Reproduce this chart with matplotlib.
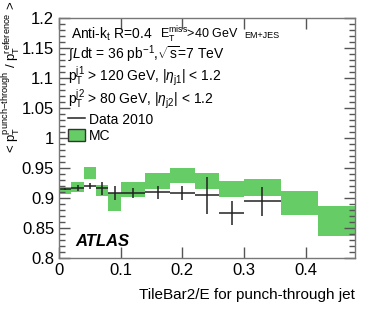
import matplotlib
matplotlib.use('Agg')
import matplotlib.pyplot as plt
from matplotlib.patches import Patch
from matplotlib.lines import Line2D
from matplotlib.ticker import MultipleLocator

plt.rcParams['font.family'] = ['Liberation Sans', 'DejaVu Sans']
plt.rcParams['mathtext.fontset'] = 'custom'
plt.rcParams['mathtext.rm'] = 'Liberation Sans'
plt.rcParams['mathtext.it'] = 'Liberation Sans:italic'

# MC band: bin edges, lower and upper values
mc_edges = [0, 0.02, 0.04, 0.06, 0.08, 0.10, 0.14, 0.18, 0.22, 0.26, 0.30, 0.36, 0.42, 0.48]
mc_low = [0.907, 0.910, 0.932, 0.903, 0.878, 0.902, 0.915, 0.925, 0.915, 0.902, 0.903, 0.871, 0.836]
mc_high = [0.918, 0.926, 0.951, 0.922, 0.909, 0.926, 0.942, 0.950, 0.942, 0.928, 0.932, 0.911, 0.887]

# data 2010 points
data_x = [0.01, 0.03, 0.05, 0.07, 0.09, 0.12, 0.16, 0.20, 0.24, 0.28, 0.33]
data_xerr = [0.01, 0.01, 0.01, 0.01, 0.01, 0.02, 0.02, 0.02, 0.02, 0.02, 0.03]
data_y = [0.915, 0.917, 0.920, 0.916, 0.908, 0.908, 0.9095, 0.908, 0.9045, 0.8755, 0.8945]
data_yerr = [0.002, 0.005, 0.005, 0.0105, 0.012, 0.008, 0.011, 0.012, 0.031, 0.020, 0.024]

fig = plt.figure(figsize=(3.74, 3.09), dpi=100)
ax = fig.add_axes([0.158, 0.165, 0.791, 0.777])

green = '#66cc66'
for i in range(len(mc_low)):
    ax.fill_between([mc_edges[i], mc_edges[i + 1]], mc_low[i], mc_high[i],
                    color=green, linewidth=0)

ax.errorbar(data_x, data_y, xerr=data_xerr, yerr=data_yerr, fmt='none',
            ecolor='#222222', elinewidth=1.1, capsize=0)

ax.set_xlim(0, 0.48)
ax.set_ylim(0.8, 1.2)
ax.yaxis.set_minor_locator(MultipleLocator(0.01))
ax.tick_params(which='both', direction='in', top=True, right=True,
               labelsize=12, colors='#555555', labelcolor='black')
ax.tick_params(which='major', length=8, width=1)
ax.tick_params(which='minor', length=4, width=1)
ax.set_xticks([0, 0.1, 0.2, 0.3, 0.4])
ax.set_xticklabels(['0', '0.1', '0.2', '0.3', '0.4'])
ax.set_yticks([0.8, 0.85, 0.9, 0.95, 1.0, 1.05, 1.1, 1.15, 1.2])
ax.set_yticklabels(['0.8', '0.85', '0.9', '0.95', '1', '1.05', '1.1', '1.15', '1.2'])
for s in ax.spines.values():
    s.set_color('#777777')
    s.set_linewidth(1)

ax.set_xlabel('TileBar2/E for punch-through jet', fontsize=11, loc='right', labelpad=7)
fig.text(0.002, 0.998,
         r'< p$_\mathrm{T}^\mathrm{punch\mathrm{-}through}$ / p$_\mathrm{T}^\mathrm{reference}$ >',
         rotation=90, ha='left', va='top', fontsize=9.5)

ax.text(0.04, 0.915, r'Anti-k$_\mathrm{t}$ R=0.4', transform=ax.transAxes, fontsize=10)
ax.text(0.34, 0.915, r'E$_\mathrm{T}^\mathrm{miss}$>40 GeV', transform=ax.transAxes, fontsize=9)
ax.text(0.625, 0.915, 'EM+JES', transform=ax.transAxes, fontsize=6.5)
ax.text(0.03, 0.83, r'$\int$$\mathit{L}$dt = 36 pb$^\mathrm{-1}$,$\sqrt{\mathrm{s}}$=7 TeV',
        transform=ax.transAxes, fontsize=10)
ax.text(0.03, 0.735, r'p$_\mathrm{T}^\mathrm{j1}$ > 120 GeV, |$\eta_\mathrm{j1}$| < 1.2',
        transform=ax.transAxes, fontsize=10)
ax.text(0.03, 0.64, r'p$_\mathrm{T}^\mathrm{j2}$ > 80 GeV, |$\eta_\mathrm{j2}$| < 1.2',
        transform=ax.transAxes, fontsize=10)
ax.text(0.055, 0.05, 'ATLAS', transform=ax.transAxes, fontsize=12,
        fontweight='bold', fontstyle='italic')

handles = [Line2D([], [], color='#222222', linewidth=1.1),
           Patch(facecolor=green, edgecolor='#333333', linewidth=1)]
ax.legend(handles, ['Data 2010', 'MC'], loc='upper left', bbox_to_anchor=(0.03, 0.605),
          frameon=False, fontsize=10, handlelength=1.2, handleheight=0.9,
          handletextpad=0.3, labelspacing=0.15, borderaxespad=0, borderpad=0)

fig.savefig('out.png', dpi=100)
